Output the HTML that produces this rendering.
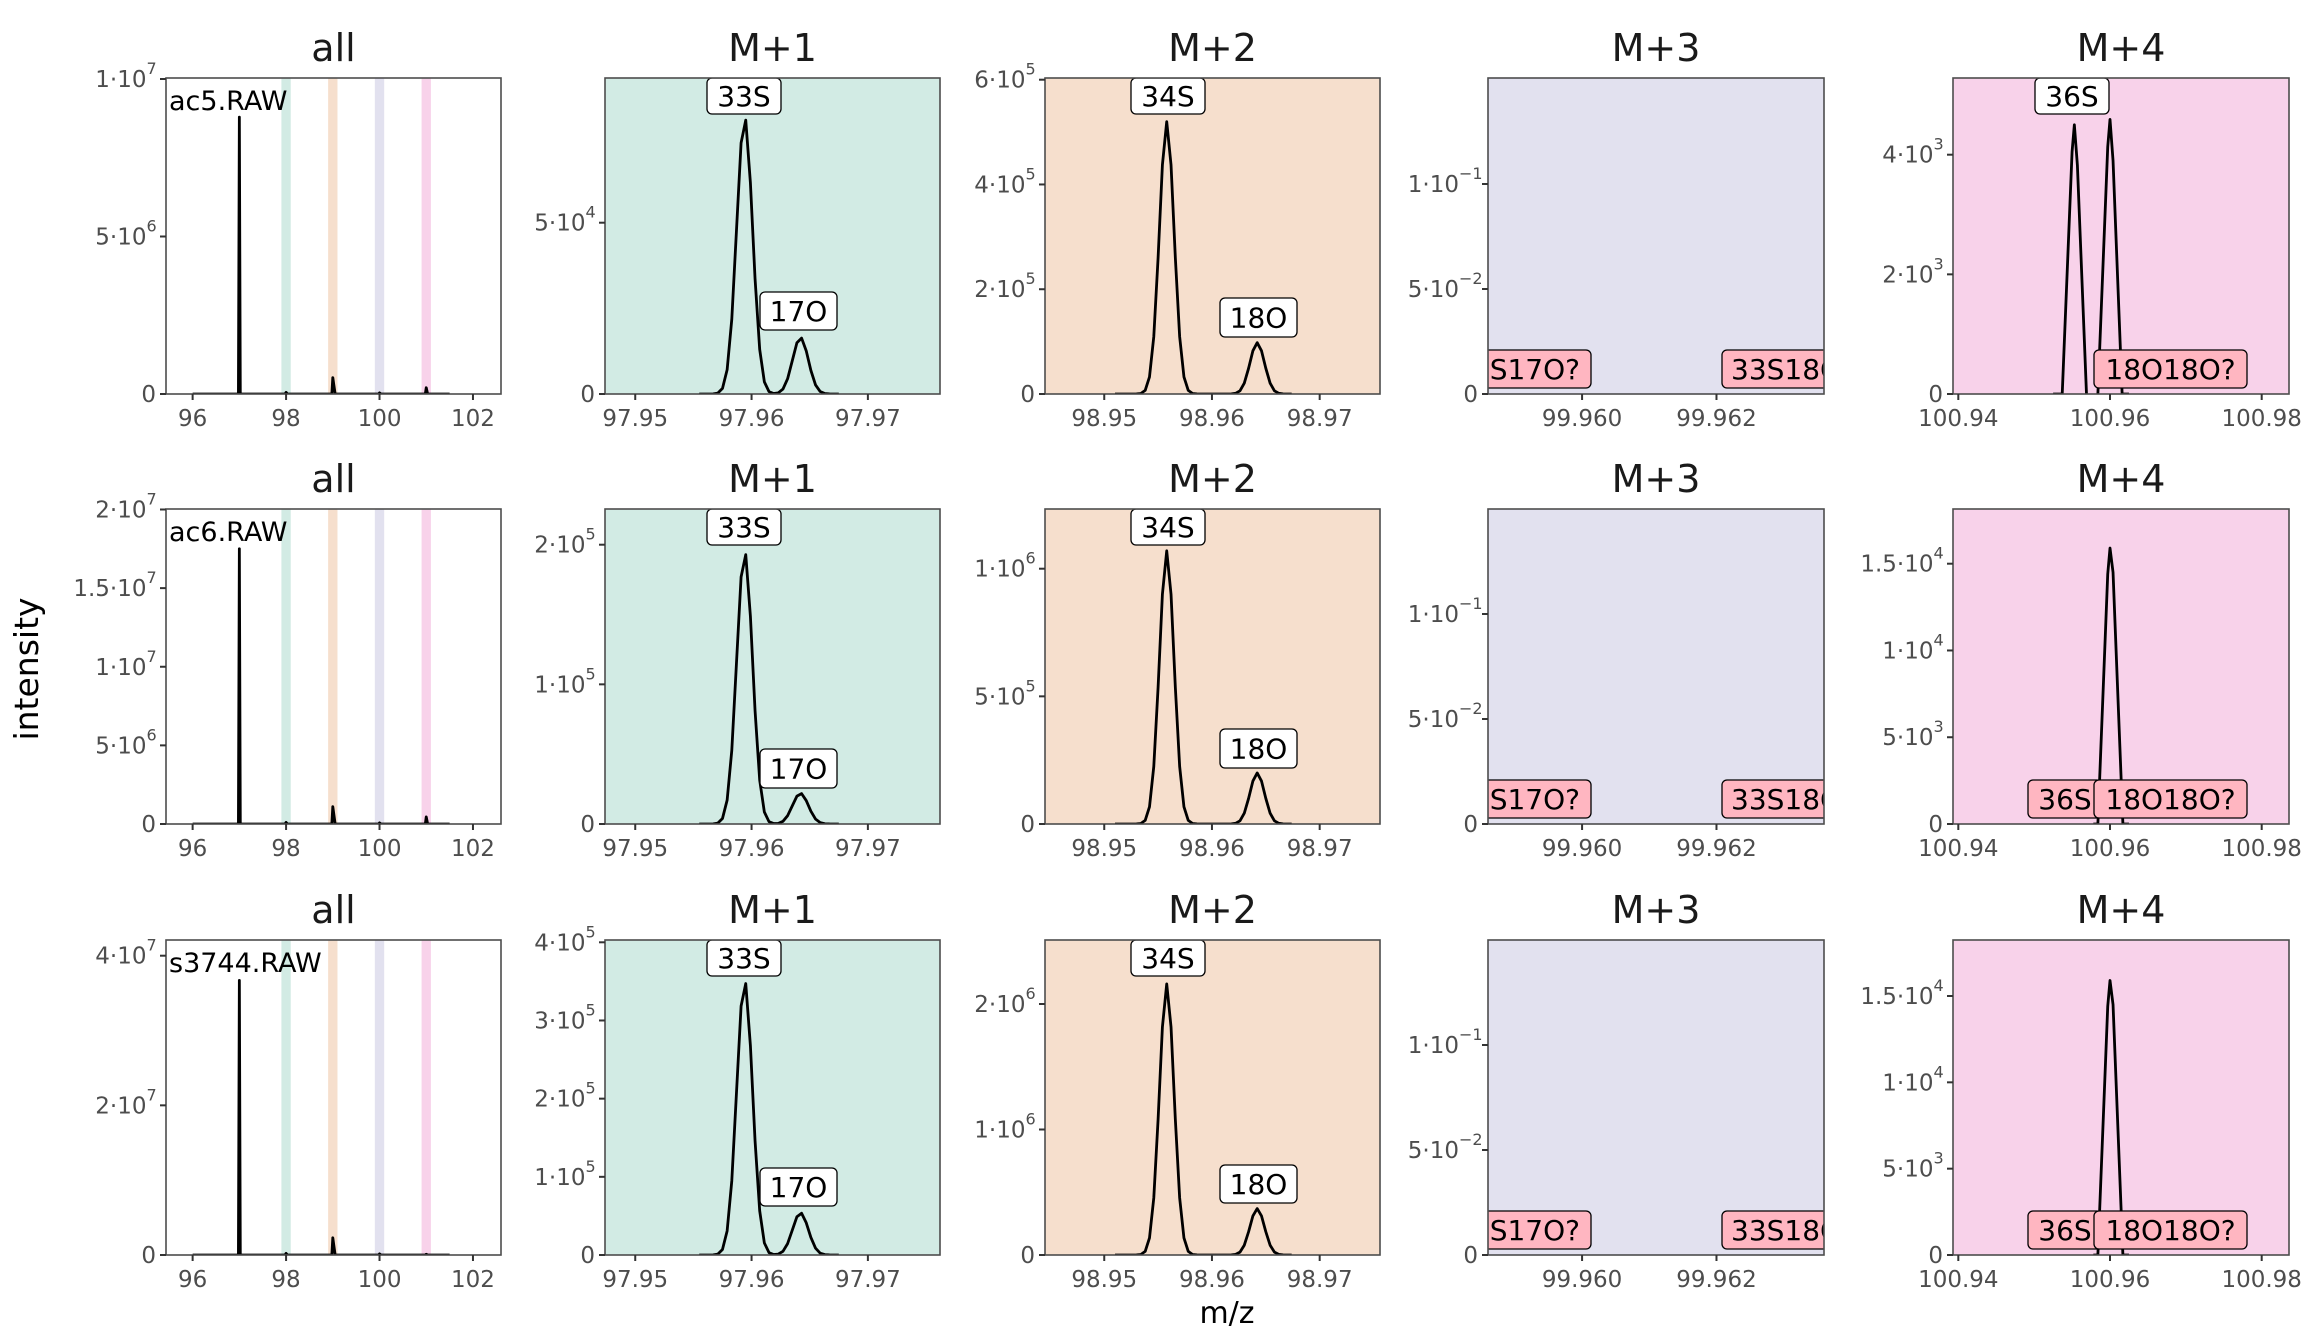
<!DOCTYPE html>
<html><head><meta charset="utf-8">
<style>
html,body{margin:0;padding:0;background:#fff;}
svg{display:block;font-family:"DejaVu Sans","Liberation Sans",sans-serif;}
</style></head>
<body>
<svg id="s" xmlns="http://www.w3.org/2000/svg" width="2304" height="1344" viewBox="0 0 2304 1344"></svg>
<script>
const S=document.getElementById('s');
let out='';
const cols=[[166,501],[605,940],[1045,1380],[1488,1824],[1953,2289]];
const rows=[[78,394],[509,824],[940,1255]];
const bg=['#ffffff','#d2ebe4','#f6dfcd','#e2e1ef','#f8d2ea'];
const xr=[[95.43,102.6],[97.9474,97.9762],[98.9445,98.9756],[99.9586,99.9636],[100.9393,100.9836]];
const xt=[[[96,'96'],[98,'98'],[100,'100'],[102,'102']],
 [[97.95,'97.95'],[97.96,'97.96'],[97.97,'97.97']],
 [[98.95,'98.95'],[98.96,'98.96'],[98.97,'98.97']],
 [[99.960,'99.960'],[99.962,'99.962']],
 [[100.94,'100.94'],[100.96,'100.96'],[100.98,'100.98']]];
const titles=['all','M+1','M+2','M+3','M+4'];
const samples=['ac5.RAW','ac6.RAW','s3744.RAW'];
const Y=[
 [[315/1e7,[[0],[5e6,'5',6],[1e7,'1',7]]],
  [171.3/5e4,[[0],[5e4,'5',4]]],
  [314.3/6e5,[[0],[2e5,'2',5],[4e5,'4',5],[6e5,'6',5]]],
  [105/0.05,[[0],[0.05,'5',-2],[0.1,'1',-1]]],
  [239.3/4e3,[[0],[2e3,'2',3],[4e3,'4',3]]]],
 [[314.5/2e7,[[0],[5e6,'5',6],[1e7,'1',7],[1.5e7,'1.5',7],[2e7,'2',7]]],
  [279.3/2e5,[[0],[1e5,'1',5],[2e5,'2',5]]],
  [255.3/1e6,[[0],[5e5,'5',5],[1e6,'1',6]]],
  [105/0.05,[[0],[0.05,'5',-2],[0.1,'1',-1]]],
  [260.3/1.5e4,[[0],[5e3,'5',3],[1e4,'1',4],[1.5e4,'1.5',4]]]],
 [[299.3/4e7,[[0],[2e7,'2',7],[4e7,'4',7]]],
  [312.7/4e5,[[0],[1e5,'1',5],[2e5,'2',5],[3e5,'3',5],[4e5,'4',5]]],
  [251/2e6,[[0],[1e6,'1',6],[2e6,'2',6]]],
  [105/0.05,[[0],[0.05,'5',-2],[0.1,'1',-1]]],
  [259/1.5e4,[[0],[5e3,'5',3],[1e4,'1',4],[1.5e4,'1.5',4]]]]
];
const allP=[[0.879e7,0.52e6,0.2e6],[1.75e7,1.1e6,0.45e6],[3.67e7,2.3e6,0.1e6]];
const m1=[[8.08e4,1.65e4],[1.95e5,0.22e5],[3.51e5,0.54e5]];
const m2=[[5.2e5,0.98e5],[1.07e6,2.0e5],[2.16e6,0.37e6]];
const m1L=[[292,330],[749,788],[1168,1206]];
const m2L=[[298,337],[729,768],[1165,1203]];
function gauss(pk,a,b,step,sig){const p=[];for(let x=a;x<=b+1e-9;x+=step){let y=0;for(const [c,h] of pk)y+=h*Math.exp(-(x-c)*(x-c)/(2*sig*sig));p.push([x,y]);}return p;}
function box(x1,y1,x2,y2,txt,fill,anchor,tx){
 out+=`<rect x="${x1}" y="${y1}" width="${x2-x1}" height="${y2-y1}" rx="5" fill="${fill}" stroke="#000" stroke-width="1.3"/>`;
 const cy=(y1+y2)/2+10;
 if(anchor==='middle')out+=`<text x="${(x1+x2)/2}" y="${cy}" font-size="28" text-anchor="middle" fill="#000">${txt}</text>`;
 else out+=`<text x="${tx}" y="${cy}" font-size="28" text-anchor="${anchor}" fill="#000">${txt}</text>`;
}
for(let r=0;r<3;r++){
 const [T,B]=rows[r];
 for(let c=0;c<5;c++){
  const [L,R]=cols[c];
  const X=v=>L+(v-xr[c][0])/(xr[c][1]-xr[c][0])*(R-L);
  const k=Y[r][c][0];
  const Yp=v=>B-v*k;
  const id=`c${r}${c}`;
  out+=`<clipPath id="${id}"><rect x="${L}" y="${T}" width="${R-L}" height="${B-T}"/></clipPath>`;
  out+=`<rect x="${L}" y="${T}" width="${R-L}" height="${B-T}" fill="${bg[c]}"/>`;
  out+=`<text x="${(L+R)/2}" y="${T-17}" font-size="38" text-anchor="middle" fill="#1a1a1a">${titles[c]}</text>`;
  out+=`<g clip-path="url(#${id})">`;
  const line=pts=>{out+=`<polyline fill="none" stroke="#000" stroke-width="2.8" stroke-linejoin="round" points="${pts.map(p=>X(p[0]).toFixed(2)+','+Yp(p[1]).toFixed(2)).join(' ')}"/>`;};
  if(c===0){
   const bc=['#d2ebe4','#f6dfcd','#e2e1ef','#f8d2ea'];
   for(let i=0;i<4;i++){out+=`<rect x="${X(97.9+i)}" y="${T}" width="${X(98.1)-X(97.9)}" height="${B-T}" fill="${bc[i]}"/>`;}
   const a=allP[r];
   line([[96,0],[96.98,0],[97,a[0]],[97.02,0],[97.98,0],[98,a[0]*0.006],[98.03,0],[98.98,0],[99,a[1]],[99.02,a[1]*0.6],[99.05,0],[99.98,0],[100,a[0]*0.004],[100.03,0],[100.98,0],[101,a[2]],[101.03,0],[101.5,0]]);
   out+=`<text x="169" y="${T+32}" font-size="27" fill="#000">${samples[r]}</text>`;
  } else if(c===1){
   line(gauss([[97.9594,m1[r][0]],[97.9642,m1[r][1]]],97.9555,97.9675,0.0004,0.00068));
  } else if(c===2){
   line(gauss([[98.9558,m2[r][0]],[98.9642,m2[r][1]]],98.951,98.9675,0.0004,0.00068));
  } else if(c===4){
   if(r===0){
    const tri=(cc,h)=>[[cc-0.0016,0],[cc-0.0003,0.9*h],[cc,h],[cc+0.0004,0.85*h],[cc+0.0016,0]];
    line([[100.9525,0]].concat(tri(100.9553,4.5e3)));
    line(tri(100.9600,4.59e3).concat([[100.9625,0]]));
   } else {
    line([[100.9578,0],[100.9584,0],[100.9597,1.44e4],[100.9600,1.59e4],[100.9604,1.45e4],[100.9617,0],[100.9625,0]]);
   }
  }
  if(c===1){box(707,T,781,T+36,'33S','#fff','middle');box(760,m1L[r][0],837,m1L[r][1],'17O','#fff','middle');}
  if(c===2){box(1131,T,1205,T+36,'34S','#fff','middle');box(1220,m2L[r][0],1297,m2L[r][1],'18O','#fff','middle');}
  if(c===3){box(1420,B-44,1591,B-6,'33S17O?','#ffb6c1','end',1580);box(1722,B-44,1900,B-6,'33S18O?','#ffb6c1','start',1731);}
  if(c===4){
   if(r===0)box(2035,T,2109,T+36,'36S','#fff','middle');
   else box(2028,B-44,2102,B-6,'36S','#ffb6c1','middle');
   box(2094,B-44,2247,B-6,'18O18O?','#ffb6c1','middle');
  }
  out+=`</g>`;
  out+=`<rect x="${L}" y="${T}" width="${R-L}" height="${B-T}" fill="none" stroke="#4d4d4d" stroke-width="1.6"/>`;
  for(const [v,lab] of xt[c]){const x=X(v);out+=`<line x1="${x}" y1="${B}" x2="${x}" y2="${B+6}" stroke="#333" stroke-width="2"/>`;
   out+=`<text x="${x}" y="${B+32}" font-size="23" text-anchor="middle" fill="#4d4d4d">${lab}</text>`;}
  for(const t of Y[r][c][1]){const y=Yp(t[0]);out+=`<line x1="${L-6}" y1="${y}" x2="${L}" y2="${y}" stroke="#333" stroke-width="2"/>`;
   if(t.length===1)out+=`<text x="${L-10}" y="${y+8}" font-size="23" text-anchor="end" fill="#4d4d4d">0</text>`;
   else{const e=String(t[2]).replace('-','\u2212');
    const ew=e.length*9.5;
    out+=`<text x="${L-10-ew}" y="${y+8}" font-size="23" text-anchor="end" fill="#4d4d4d">${t[1]}\u00b710</text>`;
    out+=`<text x="${L-10-ew}" y="${y-5}" font-size="16" text-anchor="start" fill="#4d4d4d">${e}</text>`;}
  }
 }
}
out+=`<text x="1227" y="1323" font-size="30" text-anchor="middle" fill="#000">m/z</text>`;
out+=`<text transform="translate(38,669) rotate(-90)" font-size="33" text-anchor="middle" fill="#000">intensity</text>`;
S.innerHTML=out;
</script>
</body></html>
